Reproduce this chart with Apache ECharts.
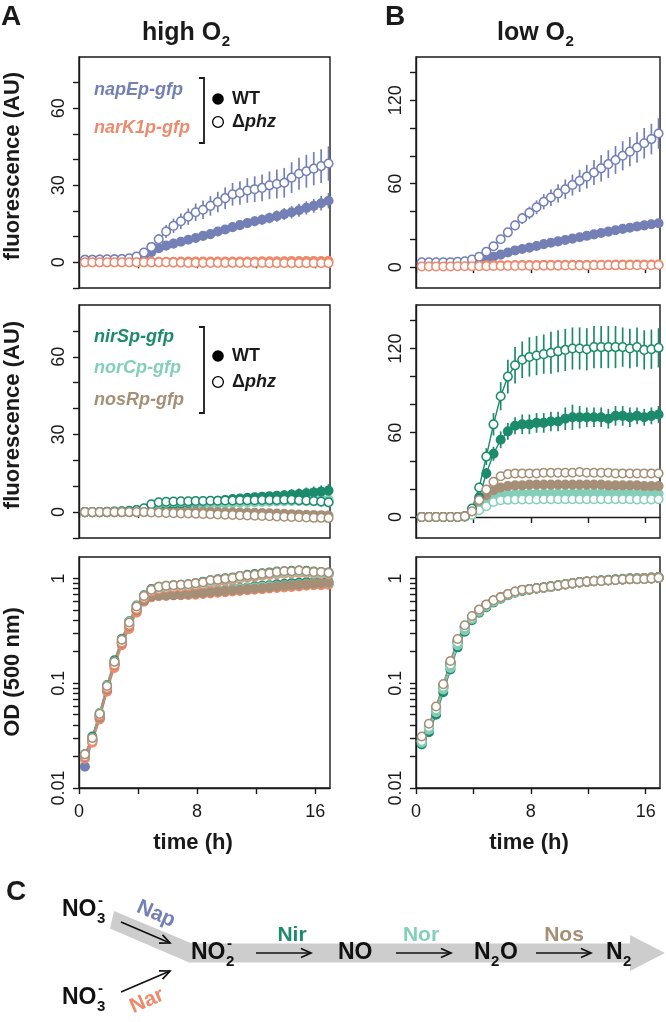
<!DOCTYPE html>
<html><head><meta charset="utf-8">
<script src="https://cdn.jsdelivr.net/npm/echarts@6.0.0/dist/echarts.min.js"></script>
<style>html,body{margin:0;padding:0;background:#fff;}#chart{width:666px;height:1022px;}</style>
</head><body><div id="chart"></div>
<script>
// ---------------- DATA ----------------
const times = [0.4,0.9,1.4,1.9,2.4,2.9,3.4,3.9,4.4,4.9,5.4,5.9,6.4,6.9,7.4,7.9,8.4,8.9,9.4,9.9,10.4,10.9,11.4,11.9,12.4,12.9,13.4,13.9,14.4,14.9,15.4,15.9,16.4,16.9];
const xTicks = [0,4,8,12,16];
const xTickLabels = [0,8,16];
const yTicksHi = [-10,0,10,20,30,40,50,60,70];
const yLabelsHi = [0,30,60];
const yTicksLo = [0,20,40,60,80,100,120,140];
const yLabelsLo = [0,60,120];
const odTicks = [0.01,0.02,0.03,0.04,0.05,0.06,0.07,0.08,0.09,0.1,0.2,0.3,0.4,0.5,0.6,0.7,0.8,0.9,1];
const odLabels = [0.01,0.1,1];

// high O2 fluorescence (A)
const hiNapWT  = [1.0,1.0,1.0,1.0,1.1,1.1,1.2,1.5,2.5,4.0,5.5,6.5,7.3,8.0,8.8,9.5,10.3,11.0,12.0,12.8,13.7,14.5,15.3,16.0,16.6,17.3,18.0,18.8,19.5,20.3,21.2,22.0,23.0,24.0];
const hiNapWTe = [0.3,0.3,0.3,0.3,0.3,0.3,0.3,0.4,0.5,0.7,0.8,0.9,1.0,1.0,1.1,1.2,1.2,1.3,1.4,1.5,1.6,1.7,1.8,1.9,2.0,2.1,2.2,2.3,2.4,2.5,2.6,2.7,2.8,3.0];
const hiNapKO  = [1.0,1.0,1.1,1.2,1.2,1.3,1.6,2.3,3.8,6.0,9.0,12.0,14.2,16.0,17.8,19.5,20.5,22.0,23.5,25.0,26.5,27.0,28.0,28.5,29.0,30.0,30.5,31.0,33.0,34.5,35.5,36.5,37.5,38.5];
const hiNapKOe = [0.3,0.3,0.3,0.3,0.3,0.3,0.4,0.6,1.0,1.5,2.0,2.5,2.8,3.0,3.2,3.4,3.6,3.8,4.0,4.2,4.4,4.6,4.8,5.0,5.2,5.4,5.6,5.8,6.0,6.2,6.4,6.5,6.6,6.7];
const hiNarWT  = [0.2,0.2,0.2,0.2,0.2,0.2,0.2,0.2,0.2,0.2,0.2,0.2,0.2,0.3,0.3,0.3,0.3,0.3,0.3,0.3,0.3,0.3,0.3,0.3,0.4,0.4,0.4,0.4,0.5,0.5,0.5,0.5,0.5,0.6];
const hiNarKO  = [0.0,0.0,0.0,0.0,0.0,0.0,0.0,0.0,0.0,0.0,0.0,0.0,-0.1,-0.1,-0.2,-0.2,-0.2,-0.2,-0.2,-0.2,-0.2,-0.2,-0.2,-0.2,-0.2,-0.3,-0.3,-0.3,-0.3,-0.3,-0.3,-0.3,-0.3,-0.3];
const hiNirWT  = [0,0,0,0,0,0,0.1,0.2,0.5,1.5,2.8,3.0,3.2,3.4,3.6,3.8,4.0,4.2,4.4,4.7,5.0,5.2,5.5,5.7,5.9,6.1,6.3,6.5,6.8,7.0,7.3,7.6,7.9,8.3];
const hiNirWTe = [0,0,0,0,0,0,0,0.2,0.4,0.6,0.8,0.8,0.9,0.9,1.0,1.0,1.1,1.1,1.2,1.2,1.3,1.3,1.4,1.5,1.6,1.7,1.8,1.9,2.0,2.1,2.2,2.3,2.4,2.5];
const hiNirKO  = [0,0,0,0.1,0.2,0.3,0.5,0.8,1.5,3.0,3.8,4.0,4.1,4.2,4.2,4.3,4.3,4.4,4.4,4.5,4.5,4.6,4.6,4.6,4.7,4.7,4.7,4.8,4.8,4.6,4.5,4.3,4.1,3.8];
const hiNirKOe = [0,0,0,0,0,0,0,0.2,0.4,0.6,0.6,0.6,0.6,0.6,0.6,0.6,0.6,0.6,0.6,0.7,0.7,0.7,0.7,0.7,0.8,0.8,0.8,0.8,0.9,0.9,0.9,1.0,1.0,1.0];
const hiNorWT  = [0,0,0,0,0,0.1,0.2,0.4,0.8,1.5,2.0,2.3,2.5,2.7,2.8,3.0,3.1,3.2,3.3,3.4,3.5,3.6,3.7,3.8,3.9,4.0,4.1,4.2,4.3,4.4,4.5,4.6,4.7,4.8];
const hiNorKO  = [0,0,0,0.1,0.2,0.3,0.4,0.7,1.3,2.6,3.4,3.6,3.8,3.9,4.0,4.0,4.1,4.1,4.2,4.2,4.2,4.3,4.3,4.3,4.4,4.4,4.4,4.4,4.4,4.3,4.2,4.1,3.9,3.7];
const hiNosWT  = [0,0,0,0,0,0,0,0,0.1,0.2,0.3,0.3,0.3,0.2,0.2,0.1,0.1,0.0,0.0,-0.1,-0.1,-0.2,-0.2,-0.3,-0.4,-0.5,-0.6,-0.7,-0.8,-0.9,-1.0,-1.1,-1.2,-1.3];
const hiNosKO  = [0,0,0,0,0,0,0,0,0,-0.1,-0.2,-0.3,-0.4,-0.5,-0.5,-0.6,-0.7,-0.8,-0.9,-1.0,-1.1,-1.2,-1.3,-1.4,-1.5,-1.6,-1.7,-1.8,-1.9,-2.0,-2.1,-2.2,-2.2,-2.3];
const hiNosKOe = [0,0,0,0,0,0,0,0,0.1,0.2,0.3,0.3,0.4,0.4,0.5,0.5,0.6,0.6,0.7,0.7,0.8,0.8,0.9,0.9,1.0,1.0,1.1,1.1,1.2,1.2,1.3,1.3,1.4,1.4];

// low O2 fluorescence (B)
const loNapWT  = [3,3,3,3,3,3,3,3.5,4.5,6,7.5,9,10.5,12,13,14,15.2,16.5,17.5,18.5,19.5,20.5,21.5,22.5,23.5,24.5,25.5,26.5,27.5,28.3,29.2,30,30.8,31.5];
const loNapWTe = [0.3,0.3,0.3,0.3,0.3,0.3,0.3,0.4,0.5,0.6,0.7,0.8,0.9,1.0,1.0,1.1,1.1,1.2,1.2,1.3,1.3,1.4,1.4,1.5,1.5,1.6,1.6,1.7,1.7,1.8,1.8,1.9,1.9,2.0];
const loNapKO  = [3.5,3.5,3.5,3.5,3.5,3.8,4.2,5.5,7.5,11,15,20,25,30,35,39,43,47,50,53,56,59,62,65,68,71,74,77,80,83,86,89,92,96];
const loNapKOe = [0.3,0.3,0.3,0.3,0.3,0.3,0.4,0.6,1.0,1.5,2.0,2.5,3.0,3.5,4.0,4.5,5.0,5.5,6.0,6.5,7.0,7.5,8.0,8.5,9.0,9.5,10,10,10.5,10.5,11,11,11,11];
const loNarWT  = [1.2,1.2,1.2,1.2,1.2,1.2,1.2,1.3,1.3,1.3,1.4,1.4,1.4,1.5,1.5,1.5,1.5,1.6,1.6,1.6,1.6,1.6,1.7,1.7,1.7,1.7,1.7,1.8,1.8,1.8,1.8,1.8,1.8,1.9];
const loNarKO  = [0.5,0.5,0.5,0.5,0.5,0.6,0.6,0.6,0.7,0.7,0.8,0.8,0.9,0.9,1.0,1.0,1.0,1.1,1.1,1.1,1.2,1.2,1.2,1.2,1.3,1.3,1.3,1.3,1.3,1.4,1.4,1.4,1.4,1.5];
const loNirWT  = [0,0,0,0,0,0,0.3,4,14,31,45,55,61,65,66,66,67,67,68,68,70,71,71,71,71,71,70,72,72,71,72,71,72,73];
const loNirWTe = [0,0,0,0,0,0,0.2,1,2,4,5,6,6,6,7,7,7,7,7,7,8,9,8,7,7,7,7,7,7,7,6,6,6,6];
const loNirKO  = [0,0,0,0,0,0,0.5,6,21,43,66,86,100,108,112,114,115,116,117,118,119,120,120,119.5,121,121,121,121,121,120,121,119,119.5,120.5];
const loNirKOe = [0,0,0,0,0,0,0.2,1,3,6,8,10,12,13,13,14,14,14,15,15,15,15,15,15,15,15,15,15,14,14,14,14,14,14];
const loNorWT  = [0,0,0,0,0,0,0.3,2,7,11,14,15.5,16,16.3,16.5,16.5,16.5,16.7,16.7,16.7,16.7,16.7,16.8,16.8,16.8,16.8,16.8,16.8,16.8,16.8,16.8,16.7,16.7,16.7];
const loNorKO  = [0,0,0,0,0,0,0.2,1.5,4.8,7.6,10.7,11.9,12.2,12.4,12.5,12.5,12.5,12.6,12.6,12.6,12.6,12.6,12.6,12.6,12.6,12.6,12.6,12.6,12.6,12.6,12.5,12.5,12.5,12.6];
const loNosWT  = [0,0,0,0,0,0,0.3,3,9,15.5,19,21,22,22.5,22.5,23,23,23,23,23,23,23,23,23,23,23,22.5,22.5,22.5,22.5,22.5,22,22,22];
const loNosKO  = [0,0,0,0,0,0,0.5,4,12,19.5,25,29,30.5,31,31,31,31,31.5,31.5,31.5,31.5,31.5,32,31.5,31.5,31.5,31.5,31,31,31,31,31,31,31];
const loPlateauErr = [0,0,0,0,0,0,0,0.5,1,1.5,2,2,2,2,2,2,2,2,2,2,2,2,2,2,2,2,2,2,2,2,2,2,2,2];

// OD500, high O2 (A)
const hiOdNapWT = [0.016,0.028,0.046,0.086,0.15,0.24,0.35,0.49,0.62,0.67,0.68,0.69,0.69,0.70,0.70,0.71,0.72,0.73,0.74,0.75,0.76,0.77,0.78,0.79,0.80,0.81,0.82,0.83,0.84,0.85,0.86,0.87,0.87,0.88];
const hiOdNarWT = [0.019,0.027,0.045,0.083,0.14,0.23,0.33,0.47,0.60,0.66,0.68,0.68,0.69,0.69,0.70,0.70,0.71,0.72,0.73,0.74,0.75,0.76,0.77,0.78,0.79,0.80,0.81,0.82,0.83,0.84,0.85,0.86,0.86,0.87];
const hiOdNirWT = [0.020,0.029,0.048,0.088,0.15,0.245,0.36,0.50,0.62,0.68,0.69,0.70,0.70,0.71,0.72,0.73,0.74,0.76,0.77,0.78,0.80,0.81,0.82,0.84,0.85,0.86,0.88,0.89,0.90,0.91,0.92,0.92,0.93,0.93];
const hiOdNorWT = [0.020,0.029,0.049,0.09,0.155,0.25,0.36,0.51,0.63,0.69,0.70,0.71,0.71,0.72,0.73,0.74,0.75,0.76,0.77,0.78,0.79,0.80,0.81,0.82,0.83,0.84,0.85,0.86,0.87,0.88,0.89,0.90,0.90,0.91];
const hiOdNosWT = [0.020,0.028,0.047,0.087,0.15,0.24,0.35,0.50,0.62,0.68,0.69,0.69,0.70,0.70,0.71,0.72,0.73,0.74,0.75,0.76,0.77,0.78,0.79,0.80,0.81,0.82,0.84,0.85,0.86,0.87,0.88,0.89,0.90,0.91];
const hiOdNapKO = [0.020,0.029,0.050,0.092,0.155,0.25,0.37,0.52,0.66,0.76,0.80,0.82,0.83,0.84,0.85,0.87,0.89,0.92,0.94,0.96,0.98,1.01,1.03,1.05,1.07,1.09,1.11,1.12,1.13,1.14,1.13,1.12,1.11,1.10];
const hiOdNarKO = [0.020,0.028,0.049,0.09,0.15,0.245,0.36,0.51,0.65,0.75,0.79,0.81,0.82,0.83,0.84,0.86,0.88,0.91,0.93,0.95,0.97,1.00,1.02,1.04,1.06,1.08,1.10,1.11,1.12,1.13,1.12,1.11,1.10,1.09];
const hiOdNirKO = [0.021,0.031,0.052,0.096,0.165,0.265,0.39,0.55,0.69,0.79,0.83,0.85,0.86,0.87,0.88,0.90,0.93,0.96,0.98,1.00,1.02,1.05,1.08,1.10,1.12,1.14,1.16,1.17,1.18,1.19,1.18,1.16,1.15,1.14];
const hiOdNorKO = [0.021,0.030,0.052,0.095,0.16,0.26,0.385,0.545,0.68,0.78,0.82,0.84,0.85,0.86,0.87,0.89,0.91,0.94,0.96,0.98,1.00,1.03,1.05,1.07,1.09,1.11,1.13,1.14,1.15,1.16,1.15,1.13,1.12,1.11];
const hiOdNosKO = [0.021,0.030,0.051,0.094,0.16,0.26,0.38,0.54,0.68,0.78,0.83,0.85,0.86,0.87,0.88,0.90,0.92,0.96,0.97,0.99,1.01,1.05,1.07,1.08,1.11,1.12,1.15,1.17,1.17,1.19,1.17,1.15,1.15,1.13];

// OD500, low O2 (B)
const loOdNapWT = [0.028,0.037,0.055,0.09,0.148,0.24,0.335,0.42,0.49,0.55,0.61,0.655,0.70,0.74,0.77,0.785,0.80,0.815,0.835,0.855,0.875,0.895,0.915,0.93,0.94,0.95,0.96,0.97,0.98,0.99,0.995,1.0,1.01,1.02];
const loOdNarWT = [0.028,0.037,0.055,0.09,0.148,0.24,0.335,0.42,0.49,0.55,0.61,0.655,0.70,0.74,0.77,0.785,0.80,0.815,0.835,0.855,0.875,0.895,0.915,0.93,0.94,0.95,0.96,0.97,0.98,0.99,1.0,1.01,1.02,1.03];
const loOdNirWT = [0.026,0.034,0.050,0.082,0.135,0.22,0.31,0.40,0.47,0.53,0.59,0.64,0.69,0.73,0.76,0.78,0.80,0.82,0.84,0.86,0.88,0.90,0.92,0.93,0.95,0.96,0.97,0.98,0.99,1.0,1.0,1.01,1.02,1.03];
const loOdNorWT = [0.027,0.036,0.053,0.087,0.14,0.23,0.32,0.41,0.48,0.54,0.60,0.65,0.70,0.74,0.77,0.785,0.80,0.82,0.84,0.86,0.88,0.90,0.915,0.93,0.945,0.955,0.965,0.975,0.985,0.99,1.0,1.0,1.01,1.02];
const loOdNosWT = [0.028,0.038,0.056,0.092,0.15,0.245,0.34,0.42,0.49,0.55,0.61,0.655,0.70,0.74,0.77,0.785,0.80,0.815,0.835,0.85,0.875,0.895,0.915,0.93,0.94,0.95,0.96,0.965,0.975,0.985,0.99,0.995,1.0,1.01];
const loOdNapKO = [0.030,0.040,0.059,0.096,0.16,0.26,0.35,0.43,0.50,0.56,0.61,0.655,0.70,0.745,0.775,0.785,0.80,0.815,0.83,0.85,0.875,0.895,0.915,0.93,0.94,0.945,0.955,0.965,0.975,0.985,0.985,0.99,1.0,1.01];
const loOdNarKO = [0.030,0.040,0.058,0.095,0.158,0.255,0.35,0.43,0.50,0.555,0.61,0.655,0.70,0.74,0.77,0.785,0.80,0.815,0.83,0.85,0.875,0.895,0.915,0.93,0.94,0.95,0.96,0.97,0.98,0.99,0.99,1.0,1.01,1.02];
const loOdNirKO = [0.029,0.039,0.058,0.094,0.155,0.25,0.345,0.425,0.495,0.555,0.61,0.655,0.70,0.745,0.775,0.79,0.805,0.82,0.835,0.855,0.88,0.90,0.92,0.935,0.945,0.95,0.96,0.97,0.98,0.99,0.99,0.99,1.0,1.01];
const loOdNorKO = [0.028,0.038,0.056,0.092,0.15,0.245,0.34,0.42,0.49,0.55,0.605,0.65,0.70,0.74,0.77,0.785,0.80,0.815,0.83,0.85,0.875,0.895,0.915,0.93,0.94,0.945,0.955,0.965,0.975,0.985,0.985,0.99,1.0,1.01];
const loOdNosKO = [0.031,0.041,0.060,0.098,0.163,0.264,0.357,0.437,0.504,0.562,0.618,0.66,0.71,0.75,0.778,0.789,0.806,0.818,0.836,0.855,0.88,0.90,0.919,0.932,0.946,0.946,0.96,0.967,0.98,0.987,0.987,0.987,1.0,1.014];

// ---------------- STYLE ----------------
const COL = {nap:'#7480B5', nar:'#EE8A6D', nir:'#1C8B6C', nor:'#84CFBA', nos:'#A68F77'};
const INK = '#1a1a1a';
const FF = '"Liberation Sans", Arial, Helvetica, sans-serif';
const FN = '"Liberation Sans Narrow", "Liberation Sans", Arial, sans-serif';

const grids = [
  {left:79, top:57, width:251, height:231},
  {left:416, top:57, width:244, height:231},
  {left:79, top:305, width:251, height:233},
  {left:416, top:305, width:244, height:233},
  {left:79, top:557, width:251, height:231},
  {left:416, top:557, width:244, height:231}
].map(g => Object.assign(g, {show:true, borderColor:INK, borderWidth:1.4, backgroundColor:'rgba(0,0,0,0)'}));

const lineSt = {color:INK, width:1.4};
const xAxes = grids.map((g,i) => ({
  type:'value', gridIndex:i, min:0, max:17,
  axisLine:{show:true, lineStyle:lineSt},
  axisTick:{show:true, inside:false, length:6, customValues:xTicks, lineStyle:lineSt},
  axisLabel:{show:i>=4, customValues:xTickLabels, margin:15, fontSize:18, color:INK, fontFamily:FN},
  splitLine:{show:false}
}));
function yFluor(i, hi){
  return {type:'value', gridIndex:i, min: hi?-10:-15, max: hi?80:151,
    axisLine:{show:true, lineStyle:lineSt},
    axisTick:{show:true, length:6, customValues: hi?yTicksHi:yTicksLo, lineStyle:lineSt},
    axisLabel:{customValues: hi?yLabelsHi:yLabelsLo, rotate:90, margin:11, fontSize:18, color:INK, fontFamily:FN},
    splitLine:{show:false}};
}
function yOD(i){
  return {type:'log', logBase:10, gridIndex:i, min:0.01, max:1.6,
    axisLine:{show:true, lineStyle:lineSt},
    axisTick:{show:true, length:6, customValues:odTicks, lineStyle:lineSt},
    axisLabel:{customValues:odLabels, rotate:90, margin:11, fontSize:18, color:INK, fontFamily:FN,
      formatter: v => String(parseFloat(Number(v).toPrecision(2)))},
    splitLine:{show:false}, minorTick:{show:false}};
}
const yAxes = [yFluor(0,true), yFluor(1,false), yFluor(2,true), yFluor(3,false), yOD(4), yOD(5)];

const series = [];
function addErr(g, vals, errs, color){
  series.push({type:'custom', xAxisIndex:g, yAxisIndex:g, silent:true, clip:true,
    data: times.map((t,i)=>[t, vals[i], errs[i]]),
    renderItem:(p, api)=>{
      const t=api.value(0), v=api.value(1), e=api.value(2);
      const a=api.coord([t, v-e]), b=api.coord([t, v+e]);
      return {type:'line', shape:{x1:a[0], y1:a[1], x2:b[0], y2:b[1]}, style:{stroke:color, lineWidth:1.7}};
    }});
}
function addLine(g, vals, color, open){
  series.push({type:'line', xAxisIndex:g, yAxisIndex:g, silent:true, clip:true,
    symbol:'circle', symbolSize:8.6, showSymbol:true, showAllSymbol:true,
    data: times.map((t,i)=>[t, vals[i]]),
    lineStyle:{color:color, width:1.4},
    itemStyle:{color: open?'#ffffff':color, borderColor:color, borderWidth:1.5},
    emphasis:{disabled:true}});
}
// A top
addErr(0, hiNapWT, hiNapWTe, COL.nap); addLine(0, hiNapWT, COL.nap, false);
addLine(0, hiNarWT, COL.nar, false);
addErr(0, hiNapKO, hiNapKOe, COL.nap); addLine(0, hiNapKO, COL.nap, true);
addLine(0, hiNarKO, COL.nar, true);
// B top
addErr(1, loNapWT, loNapWTe, COL.nap); addLine(1, loNapWT, COL.nap, false);
addLine(1, loNarWT, COL.nar, false);
addErr(1, loNapKO, loNapKOe, COL.nap); addLine(1, loNapKO, COL.nap, true);
addLine(1, loNarKO, COL.nar, true);
// A middle
addLine(2, hiNorWT, COL.nor, false);
addLine(2, hiNosWT, COL.nos, false);
addErr(2, hiNirWT, hiNirWTe, COL.nir); addLine(2, hiNirWT, COL.nir, false);
addLine(2, hiNorKO, COL.nor, true);
addErr(2, hiNirKO, hiNirKOe, COL.nir); addLine(2, hiNirKO, COL.nir, true);
addErr(2, hiNosKO, hiNosKOe, COL.nos); addLine(2, hiNosKO, COL.nos, true);
// B middle
addErr(3, loNorWT, loPlateauErr, COL.nor); addLine(3, loNorWT, COL.nor, false);
addErr(3, loNosWT, loPlateauErr, COL.nos); addLine(3, loNosWT, COL.nos, false);
addErr(3, loNirWT, loNirWTe, COL.nir); addLine(3, loNirWT, COL.nir, false);
addErr(3, loNorKO, loPlateauErr, COL.nor); addLine(3, loNorKO, COL.nor, true);
addErr(3, loNirKO, loNirKOe, COL.nir); addLine(3, loNirKO, COL.nir, true);
addErr(3, loNosKO, loPlateauErr, COL.nos); addLine(3, loNosKO, COL.nos, true);
// A bottom (OD)
addLine(4, hiOdNapWT, COL.nap, false); addLine(4, hiOdNarWT, COL.nar, false);
addLine(4, hiOdNirWT, COL.nir, false); addLine(4, hiOdNorWT, COL.nor, false);
addLine(4, hiOdNosWT, COL.nos, false);
addLine(4, hiOdNapKO, COL.nap, true); addLine(4, hiOdNarKO, COL.nar, true);
addLine(4, hiOdNirKO, COL.nir, true); addLine(4, hiOdNorKO, COL.nor, true);
addLine(4, hiOdNosKO, COL.nos, true);
// B bottom (OD)
addLine(5, loOdNapWT, COL.nap, false); addLine(5, loOdNarWT, COL.nar, false);
addLine(5, loOdNirWT, COL.nir, false); addLine(5, loOdNorWT, COL.nor, false);
addLine(5, loOdNosWT, COL.nos, false);
addLine(5, loOdNapKO, COL.nap, true); addLine(5, loOdNarKO, COL.nar, true);
addLine(5, loOdNirKO, COL.nir, true); addLine(5, loOdNorKO, COL.nor, true);
addLine(5, loOdNosKO, COL.nos, true);

// ---------------- ANNOTATIONS ----------------
const cv = document.createElement('canvas').getContext('2d');
function tw(s, font){ cv.font = font; return cv.measureText(s).width; }
const G = [];
function txt(x, y, s, font, fill, extra){
  const el = {type:'text', x:x, y:y, silent:true,
    style:Object.assign({text:s, font:font, fill:fill||INK, align:'left', verticalAlign:'middle'}, extra||{})};
  G.push(el); return el;
}
function rtxt(x, y, s, font, rot, align){
  G.push({type:'text', x:x, y:y, rotation:rot, silent:true,
    style:{text:s, font:font, fill:INK, align:align||'center', verticalAlign:'middle'}});
}
// panel letters and titles
txt(1, 17, 'A', 'bold 28px '+FF);
txt(385, 17, 'B', 'bold 28px '+FF);
txt(6, 892, 'C', 'bold 28px '+FF);
function titleO2(x, y, word){
  const F = 'bold 25px '+FF;
  txt(x, y, word+' O', F);
  txt(x + tw(word+' O', F) + 0.5, y + 9, '2', 'bold 15px '+FF);
}
titleO2(142, 33, 'high');
titleO2(497, 33, 'low');
// axis titles
rtxt(13, 166, 'fluorescence (AU)', 'bold 22px '+FF, Math.PI/2);
rtxt(13, 415, 'fluorescence (AU)', 'bold 22px '+FF, Math.PI/2);
rtxt(13, 672, 'OD (500 nm)', 'bold 22px '+FF, Math.PI/2);
rtxt(193, 843, 'time (h)', 'bold 22px '+FF, 0);
rtxt(529, 843, 'time (h)', 'bold 22px '+FF, 0);

// legends
const LF = 'italic bold 18px '+FF;
function bracket(x, y1, y2){
  G.push({type:'polyline', silent:true, shape:{points:[[x-5,y1],[x,y1],[x,y2],[x-5,y2]]}, style:{stroke:INK, lineWidth:1.8, fill:null}});
}
function genoKey(x, yWT, yKO){
  G.push({type:'circle', silent:true, shape:{cx:x, cy:yWT, r:5.8}, style:{fill:'#000'}});
  G.push({type:'circle', silent:true, shape:{cx:x, cy:yKO, r:5.4}, style:{fill:'#fff', stroke:'#000', lineWidth:1.3}});
  txt(x+14, yWT, 'WT', 'bold 18px '+FF);
  txt(x+14, yKO, '{d|Δ}{p|phz}', 'bold 18px '+FF, INK, {rich:{d:{font:'bold 18px '+FF, fill:INK}, p:{font:'italic bold 18px '+FF, fill:INK}}});
}
txt(94, 90, 'napEp-gfp', LF, COL.nap);
txt(94, 128, 'narK1p-gfp', LF, COL.nar);
bracket(204, 78, 143);
genoKey(218, 99, 122);
txt(94, 337, 'nirSp-gfp', LF, COL.nir);
txt(94, 368, 'norCp-gfp', LF, COL.nor);
txt(94, 400, 'nosRp-gfp', LF, COL.nos);
bracket(204, 327, 413);
genoKey(218, 356, 382);

// panel C : denitrification pathway
G.push({type:'polygon', silent:true, shape:{points:[[114,911],[192,943.5],[630,943.5],[630,935],[665,953],[630,971],[630,962.5],[189,962.5],[110,928.5]]}, style:{fill:'#CDCDCD'}});
function arrow(x1,y1,x2,y2){
  const a = Math.atan2(y2-y1, x2-x1), L = 11, w = 0.42;
  G.push({type:'line', silent:true, shape:{x1:x1,y1:y1,x2:x2,y2:y2}, style:{stroke:'#111', lineWidth:1.7}});
  G.push({type:'polyline', silent:true, shape:{points:[[x2-L*Math.cos(a-w), y2-L*Math.sin(a-w)],[x2,y2],[x2-L*Math.cos(a+w), y2-L*Math.sin(a+w)]]}, style:{stroke:'#111', lineWidth:1.7, fill:null}});
}
arrow(121, 922, 170, 943);
arrow(121, 992, 170, 971);
arrow(256, 953, 311, 953);
arrow(396, 953, 451, 953);
arrow(536, 953, 591, 953);
const CF = 'bold 23px '+FN, CS = 'bold 15px '+FN;
function chem(x, y, main, sub, sup, after){
  txt(x, y, main, CF, '#111');
  const w = tw(main, CF);
  if (sub) txt(x + w + 0.5, y + 9, sub, CS, '#111');
  if (sup) txt(x + w + 1.5, y - 9, sup, CS, '#111');
  if (after) txt(x + w + tw(sub, CS) + 1, y, after, CF, '#111');
}
chem(62, 910, 'NO', '3', '-');
chem(62, 998, 'NO', '3', '-');
chem(191, 953, 'NO', '2', '-');
chem(338, 953, 'NO');
chem(474, 953, 'N', '2', null, 'O');
chem(606, 953, 'N', '2');
const EF = 'bold 21px '+FN;
G.push({type:'text', x:156, y:914, rotation:-0.41, silent:true, style:{text:'Nap', font:EF, fill:COL.nap, align:'center', verticalAlign:'middle'}});
G.push({type:'text', x:147, y:1001, rotation:0.41, silent:true, style:{text:'Nar', font:EF, fill:COL.nar, align:'center', verticalAlign:'middle'}});
G.push({type:'text', x:292, y:935, silent:true, style:{text:'Nir', font:EF, fill:COL.nir, align:'center', verticalAlign:'middle'}});
G.push({type:'text', x:421, y:935, silent:true, style:{text:'Nor', font:EF, fill:COL.nor, align:'center', verticalAlign:'middle'}});
G.push({type:'text', x:564, y:935, silent:true, style:{text:'Nos', font:EF, fill:COL.nos, align:'center', verticalAlign:'middle'}});

const chart = echarts.init(document.getElementById('chart'), null, {renderer:'canvas'});
chart.setOption({
  animation:false,
  backgroundColor:'#ffffff',
  grid:grids, xAxis:xAxes, yAxis:yAxes, series:series, graphic:G
});
</script>
</body></html>
